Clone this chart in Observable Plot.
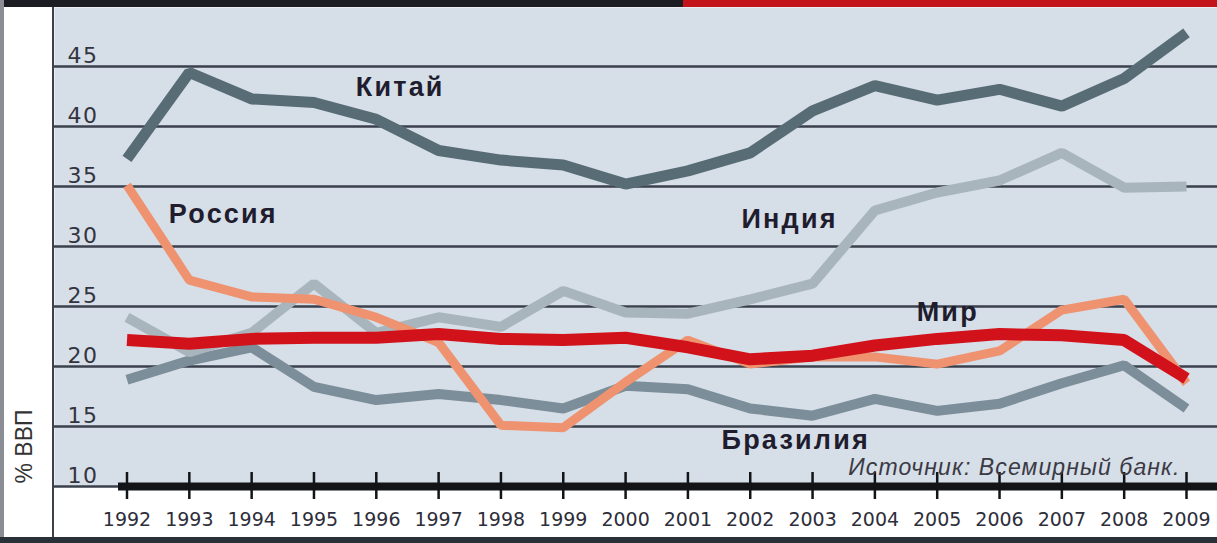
<!DOCTYPE html>
<html><head><meta charset="utf-8">
<script src="https://cdn.jsdelivr.net/npm/d3@7"></script>
<script src="https://cdn.jsdelivr.net/npm/@observablehq/plot@0.6"></script>
<style>
html,body{margin:0;padding:0;background:#fff;}
#wrap{position:relative;width:1217px;height:543px;overflow:hidden;background:#fff;}
#wrap svg{position:absolute;left:0;top:0;}
.deco{position:absolute;}
</style></head><body>
<div id="wrap"></div>
<script>
const years = [1992,1993,1994,1995,1996,1997,1998,1999,2000,2001,2002,2003,2004,2005,2006,2007,2008,2009];
const china  = [37.3,44.5,42.3,42.0,40.6,38.0,37.2,36.8,35.2,36.3,37.8,41.3,43.4,42.2,43.1,41.7,44.0,47.8];
const india  = [24.1,21.2,22.8,26.9,22.8,24.1,23.3,26.3,24.5,24.4,25.6,26.9,33.0,34.5,35.5,37.8,34.9,35.0];
const brazil = [18.9,20.5,21.6,18.3,17.2,17.7,17.2,16.5,18.4,18.1,16.5,15.9,17.3,16.3,16.9,18.6,20.1,16.5];
const russia = [35.1,27.2,25.8,25.6,24.1,22.0,15.1,14.9,18.7,22.2,20.2,20.8,20.8,20.2,21.3,24.7,25.6,18.6];
const world  = [22.2,21.9,22.3,22.4,22.4,22.7,22.3,22.2,22.4,21.6,20.6,20.9,21.75,22.3,22.7,22.6,22.2,19.0];
const yTicks = [10,15,20,25,30,35,40,45];
const names = {china:"Китай", russia:"Россия", india:"Индия", world:"Мир", brazil:"Бразилия"};
const yLabel = "% ВВП";
const source = "Источник: Всемирный банк.";

const line = (vals, color, w) => Plot.line(vals, {x: (d, i) => years[i], y: d => d, stroke: color, strokeWidth: w, strokeLinejoin: "miter", strokeLinecap: "butt"});
const lbl = (t, x, y) => Plot.text([{t, x, y}], {x: "x", y: "y", text: "t", textAnchor: "start", lineAnchor: "middle", fontSize: 27, fontWeight: "bold", fill: "#1f1c2e"});

const svg = Plot.plot({
  width: 1217, height: 543,
  marginLeft: 54, marginRight: 0, marginTop: 7, marginBottom: 57,
  x: {domain: [1992, 2009], range: [126.5, 1186], axis: null},
  y: {domain: [10, 45], range: [486, 66], axis: null},
  style: {fontFamily: "'Liberation Sans', Arial, sans-serif", background: "transparent", overflow: "visible"},
  marks: [
    Plot.frame({fill: "#d6dee8", stroke: "none"}),
    Plot.ruleY(yTicks, {y: d => d, stroke: "#3a404c", strokeWidth: 2.5}),
    line(brazil, "#7c8e99", 10),
    line(india, "#a8b5bd", 10),
    line(china, "#586c76", 11),
    line(russia, "#ee9270", 9),
    line(world, "#d2121a", 12),
    Plot.ruleY([10], {y: d => d, insetLeft: 64, stroke: "#121418", strokeWidth: 8}),
    Plot.axisX({ticks: years, tickSize: 27, dy: -14, fill: "none", label: null, stroke: "#121418", strokeWidth: 2.5}),
    Plot.text(yTicks, {y: d => d, text: d => String(d), frameAnchor: "left", dx: 13, dy: -4, textAnchor: "start", lineAnchor: "bottom", fontSize: 22, fontFamily: "'DejaVu Sans', sans-serif", fill: "#34343f"}),
    Plot.text(years, {x: d => d, text: d => String(d), frameAnchor: "bottom", dy: 26, lineAnchor: "top", fontSize: 19, fontFamily: "'DejaVu Sans', sans-serif", fill: "#2e2e3a"}),
    lbl(names.china, 1995.67, 43.3),
    lbl(names.russia, 1992.67, 32.67),
    lbl(names.india, 2001.86, 32.25),
    lbl(names.world, 2004.67, 24.5),
    lbl(names.brazil, 2001.54, 13.83),
    Plot.text([source], {text: d => d, frameAnchor: "bottom-right", dx: -37, dy: -12, textAnchor: "end", lineAnchor: "bottom", fontSize: 23, fontStyle: "italic", fill: "#3a3a44"}),
    Plot.text([yLabel], {text: d => d, frameAnchor: "bottom-left", dx: -30, dy: -3, rotate: -90, textAnchor: "start", lineAnchor: "middle", fontSize: 23, fill: "#333"})
  ]
});
const labelSet = new Set(Object.values(names));
d3.select(svg).selectAll("text").each(function() {
  const t = this.textContent;
  if (labelSet.has(t)) this.style.letterSpacing = "2.2px";
  else if (t === source) this.style.letterSpacing = "1.1px";
  else if (yTicks.map(String).includes(t)) this.style.letterSpacing = "1.5px";
});
const wrap = document.getElementById("wrap");
wrap.appendChild(svg);
const deco = (l, t, w, h, c) => { const d = document.createElement("div"); d.className = "deco"; Object.assign(d.style, {left: l+"px", top: t+"px", width: w+"px", height: h+"px", background: c}); wrap.appendChild(d); };
deco(0, 0, 683, 7, "#1c1d22");
deco(683, 0, 534, 7, "#c3141c");
deco(0, 0, 4, 543, "#8a8e94");
deco(52, 7, 2, 530, "#3c414b");
deco(0, 537, 1217, 6, "#2a3038");
</script>
</body></html>
